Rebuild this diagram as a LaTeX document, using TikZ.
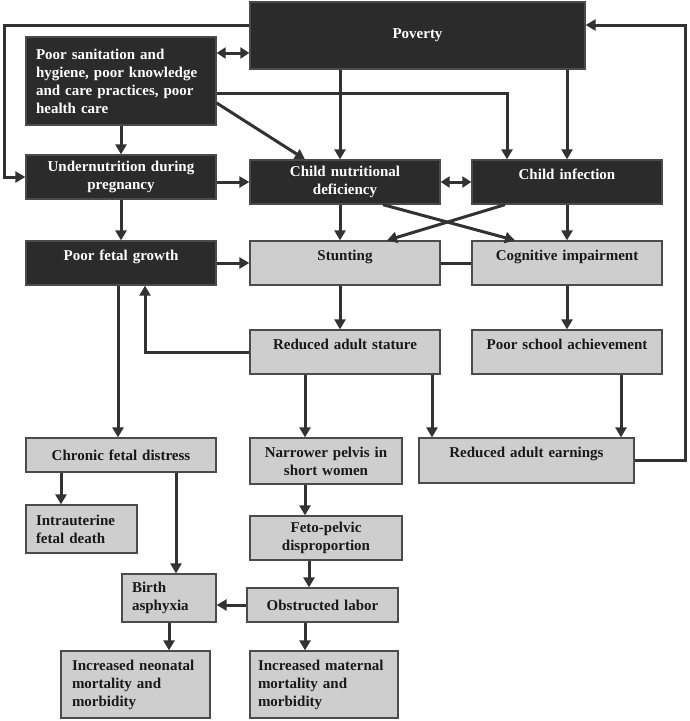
\documentclass[tikz,border=0pt]{standalone}
\usepackage{fontspec}
\setmainfont{Liberation Serif}
\usetikzlibrary{arrows.meta, positioning, calc}
\definecolor{boxdark}{RGB}{43,43,43}
\definecolor{boxlight}{RGB}{206,206,206}
\definecolor{linegray}{RGB}{50,50,50}
\definecolor{edgegray}{RGB}{75,75,75}

\tikzset{
  box/.style={draw=edgegray, line width=1.3pt, align=center, inner xsep=5pt, inner ysep=2pt,
    font=\fontsize{15}{18}\selectfont\bfseries, text width=180pt, minimum height=44pt},
  darkbox/.style={box, fill=boxdark, text=white},
  lightbox/.style={box, fill=boxlight, text=black!90},
  uptext/.style={text height=17pt, text depth=23pt},
  arr/.style={draw=linegray, line width=3pt, -{Triangle[length=10pt,width=11pt]}},
  dblarr/.style={arr, {Triangle[length=9pt,width=11pt]}-{Triangle[length=9pt,width=11pt]}},
  link/.style={draw=linegray, line width=3pt}
}

\begin{document}
\begin{tikzpicture}[x=1pt, y=1pt]
  \useasboundingbox (0,0) rectangle (690,-721);

  \node[darkbox, text width=325pt, minimum height=67pt] (poverty) at (417.5,-35.5) {Poverty};
  \node[darkbox, align=left, text width=170pt, inner xsep=10pt, minimum height=88pt] (sanit) at (121,-81)
    {Poor sanitation and\\ hygiene, poor knowledge\\ and care practices, poor\\ health care};
  \node[darkbox] (under) at (121,-177) {Undernutrition during\\ pregnancy};
  \node[darkbox] (nutdef) at (345,-182) {Child nutritional\\ deficiency};
  \node[darkbox, uptext] (infect) at (567,-182) {Child infection};
  \node[darkbox, uptext] (fetal) at (121,-263) {Poor fetal growth};
  \node[lightbox, uptext] (stunt) at (345,-263) {Stunting};
  \node[lightbox, uptext] (cognit) at (567,-263) {Cognitive impairment};
  \node[lightbox, uptext] (stature) at (345,-352) {Reduced adult stature};
  \node[lightbox, uptext] (school) at (567,-352) {Poor school achievement};
  \node[lightbox, minimum height=34pt] (distress) at (121,-455) {Chronic fetal distress};
  \node[lightbox, text width=142pt, minimum height=46pt] (pelvis) at (326,-461) {Narrower pelvis in\\ short women};
  \node[lightbox, uptext, text width=205pt, minimum height=45pt] (earnings) at (526.5,-460.5) {Reduced adult earnings};
  \node[lightbox, align=left, text width=91pt, inner xsep=10pt, minimum height=48pt] (death) at (81.5,-529)
    {Intrauterine\\ fetal death};
  \node[lightbox, text width=142pt] (fetopel) at (326,-538) {Feto-pelvic\\ disproportion};
  \node[lightbox, align=left, text width=74pt, inner xsep=10pt, minimum height=48pt] (asphyx) at (169,-598)
    {Birth\\ asphyxia};
  \node[lightbox, text width=141pt, minimum height=34pt] (obstruct) at (322.5,-605) {Obstructed labor};
  \node[lightbox, align=left, text width=127pt, inner xsep=11pt, minimum height=67pt] (neonatal) at (135.5,-684.5)
    {Increased neonatal\\ mortality and\\ morbidity};
  \node[lightbox, align=left, text width=132pt, inner xsep=8pt, minimum height=67pt] (maternal) at (324,-684.5)
    {Increased maternal\\ mortality and\\ morbidity};

  % top part
  \coordinate (n1) at ([xshift=-5pt]nutdef.north);
  \draw[arr] ([yshift=10.5pt]poverty.west) -| ([xshift=-21pt]under.west) -- (under.west);
  \draw[dblarr] ([yshift=28pt]sanit.east) coordinate (sp) -- (sp -| poverty.west);
  \draw[arr] ([yshift=-12pt]sanit.east) -| ([xshift=-60pt]infect.north);
  \draw[arr] ([yshift=-22pt]sanit.east) -- ([xshift=-40pt]nutdef.north);
  \draw[arr] (n1 |- poverty.south) -- (n1);
  \draw[arr] (poverty.south -| infect.north) -- (infect.north);
  \draw[arr] (sanit) -- (under);
  \draw[arr] (under.east |- nutdef.west) -- (nutdef.west);
  \draw[arr] (under) -- (fetal);
  \draw[dblarr] (nutdef) -- (infect);
  \draw[arr] ([xshift=-5pt]nutdef.south) coordinate (n2) -- (n2 |- stunt.north);
  \draw[arr] (infect) -- (cognit);
  \draw[arr] ([xshift=38pt]nutdef.south) -- ([xshift=-52pt]cognit.north);
  \draw[arr] ([xshift=-62pt]infect.south) -- ([xshift=42pt]stunt.north);

  % middle part
  \draw[arr] (fetal) -- (stunt);
  \draw[link] (stunt) -- (cognit);
  \draw[arr] ([xshift=-5pt]stunt.south) coordinate (n3) -- (n3 |- stature.north);
  \draw[arr] (stature.west) -| ([xshift=24pt]fetal.south);
  \draw[arr] (cognit) -- (school);
  \draw[arr] ([xshift=-40pt]stature.south) coordinate (s1) -- (s1 |- pelvis.north);
  \draw[arr] ([xshift=87pt]stature.south) coordinate (s2) -- (s2 |- earnings.north);
  \draw[arr] ([xshift=54pt]school.south) coordinate (s3) -- (s3 |- earnings.north);
  \draw[arr] (earnings.east) -| ([xshift=100pt,yshift=10.5pt]poverty.east) -- ([yshift=10.5pt]poverty.east);

  % bottom part
  \draw[arr] ([xshift=-3pt]fetal.south) coordinate (f1) -- (f1 |- distress.north);
  \draw[arr] ([xshift=-60pt]distress.south) coordinate (d1) -- (d1 |- death.north);
  \draw[arr] ([xshift=55pt]distress.south) coordinate (d2) -- (d2 |- asphyx.north);
  \draw[arr] ([xshift=-21pt]pelvis.south) coordinate (p1) -- (p1 |- fetopel.north);
  \draw[arr] ([xshift=-17pt]fetopel.south) coordinate (p2) -- (p2 |- obstruct.north);
  \draw[arr] (obstruct.west) -- (obstruct.west -| asphyx.east);
  \draw[arr] (asphyx.south) -- (asphyx.south |- neonatal.north);
  \draw[arr] ([xshift=-17.5pt]obstruct.south) coordinate (o1) -- (o1 |- maternal.north);
\end{tikzpicture}
\end{document}
